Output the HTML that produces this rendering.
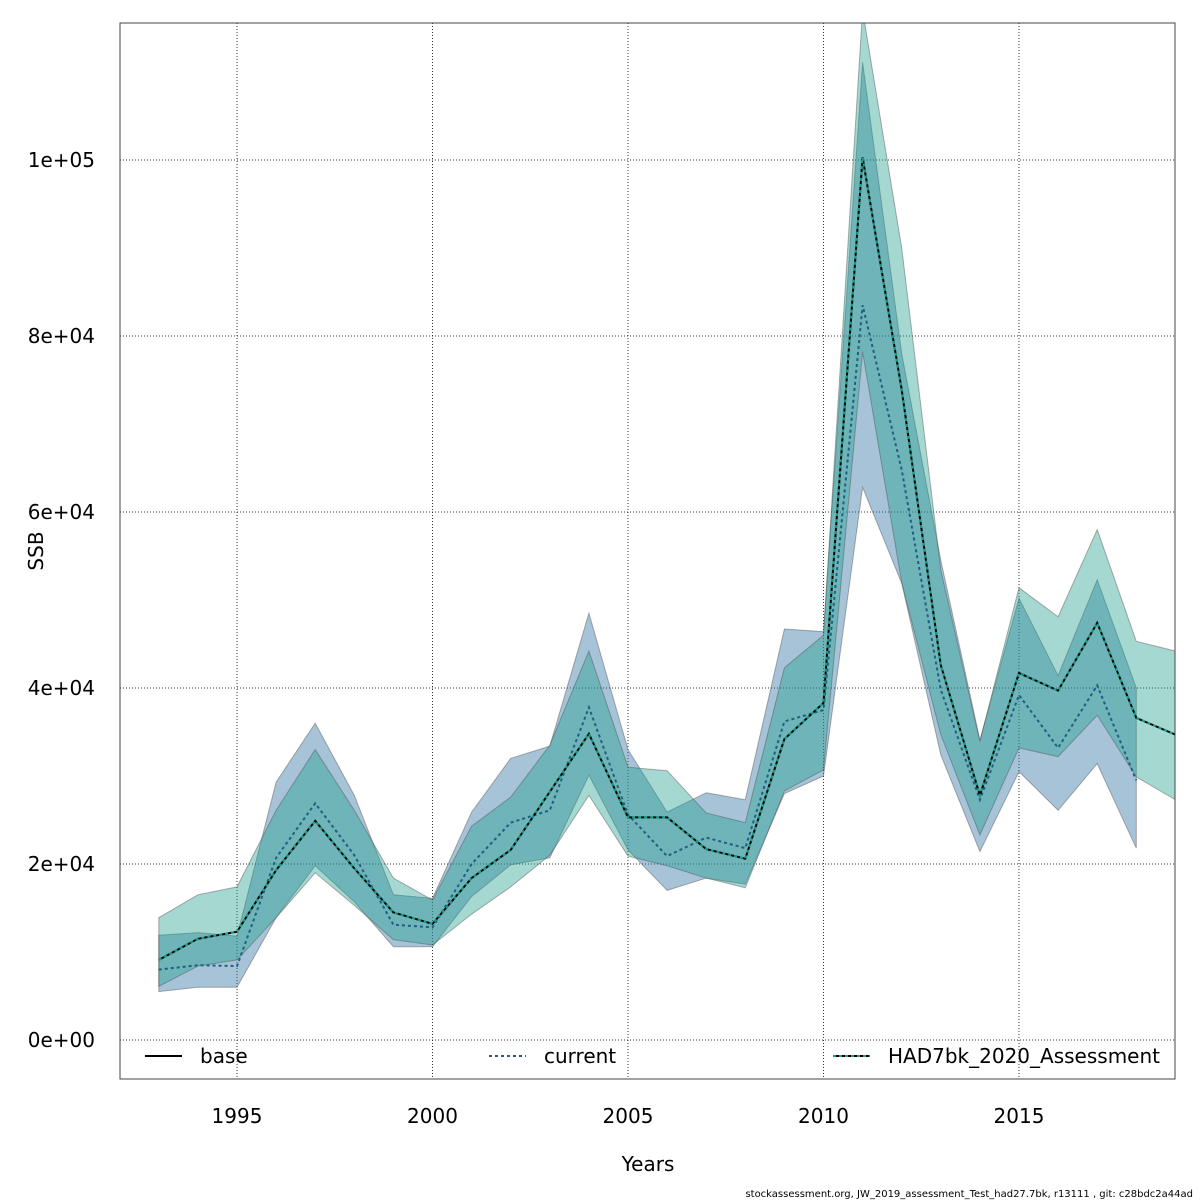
<!DOCTYPE html>
<html><head><meta charset="utf-8"><style>
body{margin:0;background:#fff}
svg{display:block;font-family:"DejaVu Sans","Liberation Sans",sans-serif}
</style></head><body>
<svg id="chart" width="1200" height="1200" xmlns="http://www.w3.org/2000/svg">
<defs><clipPath id="clip"><rect x="120" y="23" width="1055" height="1056"/></clipPath></defs>
<g id="grid"></g>
<g id="bands" clip-path="url(#clip)"></g>
<g id="lines" clip-path="url(#clip)"></g>
<rect x="120" y="23" width="1055" height="1056" fill="none" stroke="#444" stroke-width="1"/>
<g id="axes"></g>
<text x="648" y="1171" font-size="20" text-anchor="middle">Years</text>
<text x="43" y="551" font-size="20" text-anchor="middle" transform="rotate(-90 43 551)">SSB</text>
<g>
<g><line x1="145" y1="1056" x2="182" y2="1056" stroke="#000" stroke-width="2"/><text x="200" y="1063" font-size="20">base</text></g>
<g><line x1="489" y1="1056" x2="526" y2="1056" stroke="#1f5f80" stroke-width="2" stroke-dasharray="3,3"/><text x="544" y="1063" font-size="20">current</text></g>
<g><line x1="833" y1="1056" x2="870" y2="1056" stroke="#000" stroke-width="2"/><line x1="833" y1="1056" x2="870" y2="1056" stroke="#1b9e8a" stroke-width="2" stroke-dasharray="3,3"/><text x="888" y="1063" font-size="20">HAD7bk_2020_Assessment</text></g>
</g>
<text x="1193" y="1197" font-size="10" text-anchor="end">stockassessment.org, JW_2019_assessment_Test_had27.7bk, r13111 , git: c28bdc2a44ad</text>
</svg>
<script>
const years=[1993,1994,1995,1996,1997,1998,1999,2000,2001,2002,2003,2004,2005,2006,2007,2008,2009,2010,2011,2012,2013,2014,2015,2016,2017,2018,2019];
const baseVals=[9.1,11.5,12.3,19.3,24.9,19.5,14.5,13.2,18.4,21.6,28.2,34.8,25.3,25.3,21.7,20.6,34.2,38.3,100.3,73.9,42.6,27.8,41.7,39.7,47.4,36.6,34.7];
const baseUpper=[13.9,16.5,17.4,26.1,33.0,26.1,18.4,15.9,24.3,27.6,33.5,44.2,31.0,30.6,25.8,24.7,42.3,46.0,117,90,53.4,33.9,51.4,48.1,58.0,45.3,44.2];
const baseLower=[6.1,8.4,9.1,13.9,19.0,15.3,11.4,10.8,14.3,17.4,21.0,27.8,20.9,19.8,18.4,17.3,28.3,30.7,78.2,52.0,34.7,23.3,33.2,32.2,36.9,29.9,27.3];
const curYears=years.slice(0,26);
const curVals=[8.0,8.5,8.4,20.7,26.9,21.0,13.1,12.8,20.0,24.7,26.1,37.8,25.6,20.9,23.0,21.8,36.2,37.5,83.5,64.8,39.8,27.3,39.2,33.2,40.3,29.5];
const curUpper=[11.9,12.2,11.8,29.3,36.0,27.8,16.5,16.1,25.9,32.0,33.4,48.5,33.0,25.9,28.1,27.3,46.7,46.4,111.1,78,54.5,34.1,50.2,41.4,52.3,40.0];
const curLower=[5.5,6.0,6.0,13.9,19.8,15.7,10.6,10.6,16.3,19.9,20.7,30.1,21.6,17.0,18.4,17.7,28.0,30.0,62.8,51.9,32.4,21.4,30.5,26.1,31.4,21.8];
const xTicks=[1995,2000,2005,2010,2015];
const yTicks=[0,20,40,60,80,100];
const yTickLabels=["0e+00","2e+04","4e+04","6e+04","8e+04","1e+05"];

const NS="http://www.w3.org/2000/svg";
const xs=y=>158.8+(y-1993)*39.1;
const ys=v=>1040-v*8.8;
function mk(tag,attrs,parent){const e=document.createElementNS(NS,tag);for(const k in attrs)e.setAttribute(k,attrs[k]);parent.appendChild(e);return e;}
const grid=document.getElementById('grid'),axes=document.getElementById('axes'),bands=document.getElementById('bands'),lines=document.getElementById('lines');
xTicks.forEach(t=>{
  const l=mk('line',{x1:xs(t),x2:xs(t),y1:23,y2:1079,stroke:'#333','stroke-width':1,'stroke-dasharray':'1,2'},grid);
  
  
  const tx=mk('text',{x:xs(t),y:1123,'font-size':20,'text-anchor':'middle'},axes);
  tx.textContent=t;
  
  
});
yTicks.forEach((t,i)=>{
  const l=mk('line',{x1:120,x2:1175,y1:ys(t),y2:ys(t),stroke:'#333','stroke-width':1,'stroke-dasharray':'1,2'},grid);
  
  
  const tx=mk('text',{x:95,y:ys(t)+7,'font-size':20,'text-anchor':'end'},axes);
  tx.textContent=yTickLabels[i];
  
  
});
function band(yr,up,lo,fill,name){
  const pts=yr.map((y,i)=>xs(y)+','+ys(up[i])).concat(yr.map((y,i)=>xs(y)+','+ys(lo[i])).reverse());
  const p=mk('polygon',{points:pts.join(' '),fill:fill,stroke:'rgba(80,80,80,0.45)','stroke-width':1},bands);
  
  
}
band(curYears,curUpper,curLower,'rgba(40,110,160,0.41)','current-ci-band');
band(years,baseUpper,baseLower,'rgba(27,158,138,0.4)','base-ci-band');
function line(yr,v,stroke,dash,name){
  const p=mk('polyline',{points:yr.map((y,i)=>xs(y)+','+ys(v[i])).join(' '),fill:'none',stroke:stroke,'stroke-width':2},lines);
  if(dash)p.setAttribute('stroke-dasharray',dash);
  
  
}
line(curYears,curVals,'#1f5f80','3,3','current-line');
line(years,baseVals,'#000',null,'base-line');
line(years,baseVals,'#1b9e8a','3,3','had7bk-line');
</script>
</body></html>
